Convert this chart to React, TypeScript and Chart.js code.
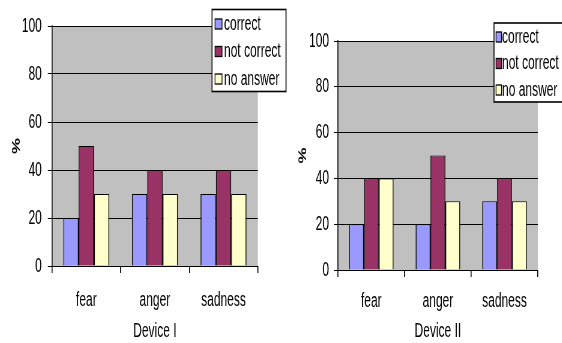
import React, { useEffect, useRef } from "react";
import { Chart, registerables } from "chart.js";

Chart.register(...registerables);

// ---------- data ----------
const categories = ["fear", "anger", "sadness"];
const seriesNames = ["correct", "not correct", "no answer"];
const device1Correct = [20, 30, 30];
const device1NotCorrect = [50, 40, 40];
const device1NoAnswer = [30, 30, 30];
const device2Correct = [20, 20, 30];
const device2NotCorrect = [40, 50, 40];
const device2NoAnswer = [40, 30, 30];
const yTicks = [0, 20, 40, 60, 80, 100];
const seriesColors = ["#9999FF", "#993366", "#FFFFCC"];

// ---------- layout ----------
const SX = 0.6; // horizontal compression of the whole drawing
const FONT = "'Liberation Sans', Arial, sans-serif";
const FS = 20;

type Spec = {
  left: number;
  canvasW: number;
  yWidth: number;
  padRight: number;
  padTop: number;
  xHeight: number;
  xLabelPad: number;
  yTickPad: number;
  yTitlePad: number;
  title: string;
  values: number[][];
  legend: { x: number; y: number; w: number; h: number; rows: number[]; swX: number; swW: number; swH: number; txX: number };
};

const specs: Spec[] = [
  {
    left: 0,
    canvasW: 290 / SX,
    yWidth: 52 / SX,
    padRight: 32 / SX,
    padTop: 26,
    xHeight: 77,
    xLabelPad: 15,
    yTickPad: 10,
    yTitlePad: 17,
    title: "Device I",
    values: [device1Correct, device1NotCorrect, device1NoAnswer],
    legend: { x: 212 / SX, y: 9, w: 74 / SX, h: 82, rows: [24, 51.5, 79], swX: 3 / SX, swW: 7 / SX, swH: 10, txX: 12 / SX },
  },
  {
    left: 290,
    canvasW: 272 / SX,
    yWidth: 48 / SX,
    padRight: 24 / SX,
    padTop: 41,
    xHeight: 73,
    xLabelPad: 12,
    yTickPad: 8,
    yTitlePad: 11,
    title: "Device II",
    values: [device2Correct, device2NotCorrect, device2NoAnswer],
    legend: { x: 204 / SX, y: 22.5, w: 82 / SX, h: 79, rows: [37, 63.5, 90], swX: 2 / SX, swW: 5.5 / SX, swH: 10, txX: 8 / SX },
  },
];

const H = 343;

function BarPanel({ spec }: { spec: Spec }) {
  const ref = useRef<HTMLCanvasElement | null>(null);
  useEffect(() => {
    if (!ref.current) return;
    const bgPlugin = {
      id: "plotBg",
      beforeDraw(chart: any) {
        const { ctx, chartArea: a } = chart;
        ctx.save();
        ctx.fillStyle = "#C0C0C0";
        ctx.fillRect(a.left, a.top, a.right - a.left, a.bottom - a.top);
        ctx.restore();
      },
    };
    const L = spec.legend;
    const legendPlugin = {
      id: "boxLegend",
      afterDraw(chart: any) {
        const { ctx } = chart;
        ctx.save();
        ctx.fillStyle = "#ffffff";
        ctx.fillRect(L.x, L.y, L.w, L.h);
        ctx.strokeStyle = "#000";
        ctx.lineWidth = 1.6;
        ctx.strokeRect(L.x, L.y + 0.5, L.w, L.h);
        ctx.font = `${FS}px ${FONT}`;
        ctx.textBaseline = "middle";
        ctx.textAlign = "left";
        chart.data.datasets.forEach((ds: any, i: number) => {
          const cy = L.rows[i];
          ctx.fillStyle = ds.backgroundColor;
          ctx.fillRect(L.x + L.swX, cy - L.swH / 2, L.swW, L.swH);
          ctx.lineWidth = 1.3;
          ctx.strokeStyle = "#000";
          ctx.strokeRect(L.x + L.swX, cy - L.swH / 2, L.swW, L.swH);
          ctx.fillStyle = "#000";
          ctx.fillText(ds.label, L.x + L.txX, cy);
        });
        ctx.restore();
      },
    };
    const chart = new Chart(ref.current, {
      type: "bar",
      data: {
        labels: categories,
        datasets: seriesNames.map((name, i) => ({
          label: name,
          data: spec.values[i],
          backgroundColor: seriesColors[i],
          borderColor: "#000",
          borderWidth: { top: 1, left: 1.6, right: 1.6, bottom: 0 },
          categoryPercentage: 0.67,
          barPercentage: 1,
        })),
      },
      options: {
        animation: false,
        responsive: false,
        devicePixelRatio: 1,
        layout: { padding: { top: spec.padTop, right: spec.padRight, left: 0, bottom: 0 } },
        plugins: { legend: { display: false }, tooltip: { enabled: false }, title: { display: false } },
        scales: {
          x: {
            afterFit: (s: any) => {
              s.height = spec.xHeight;
            },
            grid: {
              offset: true,
              drawOnChartArea: false,
              drawTicks: true,
              tickLength: 7,
              color: "#000",
              lineWidth: 1.6,
            },
            border: { display: true, color: "#000", width: 1 },
            ticks: { color: "#000", font: { family: FONT, size: FS }, padding: spec.xLabelPad, maxRotation: 0 },
            title: { display: true, text: spec.title, color: "#000", font: { family: FONT, size: FS }, padding: 0 },
          },
          y: {
            min: 0,
            max: 100,
            afterBuildTicks: (s: any) => {
              s.ticks = yTicks.map((v) => ({ value: v }));
            },
            afterFit: (s: any) => {
              s.width = spec.yWidth;
            },
            grid: { color: "#000", lineWidth: 1, drawTicks: true, tickLength: 7 },
            border: { display: true, color: "#000", width: 1.6 },
            ticks: { color: "#000", font: { family: FONT, size: FS }, padding: spec.yTickPad },
            title: { display: true, text: "%", color: "#000", font: { family: FONT, size: 18, weight: "bold" }, padding: spec.yTitlePad },
          },
        },
      },
      plugins: [bgPlugin, legendPlugin],
    });
    return () => chart.destroy();
  }, [spec]);
  return (
    <canvas
      ref={ref}
      width={Math.round(spec.canvasW)}
      height={H}
      style={{
        position: "absolute",
        left: spec.left,
        top: 0,
        width: Math.round(spec.canvasW) + "px",
        height: H + "px",
        transform: `scaleX(${SX})`,
        transformOrigin: "0 0",
      }}
    />
  );
}

export default function App() {
  return (
    <div
      style={{
        position: "absolute",
        left: 0,
        top: 0,
        width: 562,
        height: H,
        overflow: "hidden",
        background: "#fff",
      }}
    >
      {specs.map((s, i) => (
        <BarPanel key={i} spec={s} />
      ))}
    </div>
  );
}
